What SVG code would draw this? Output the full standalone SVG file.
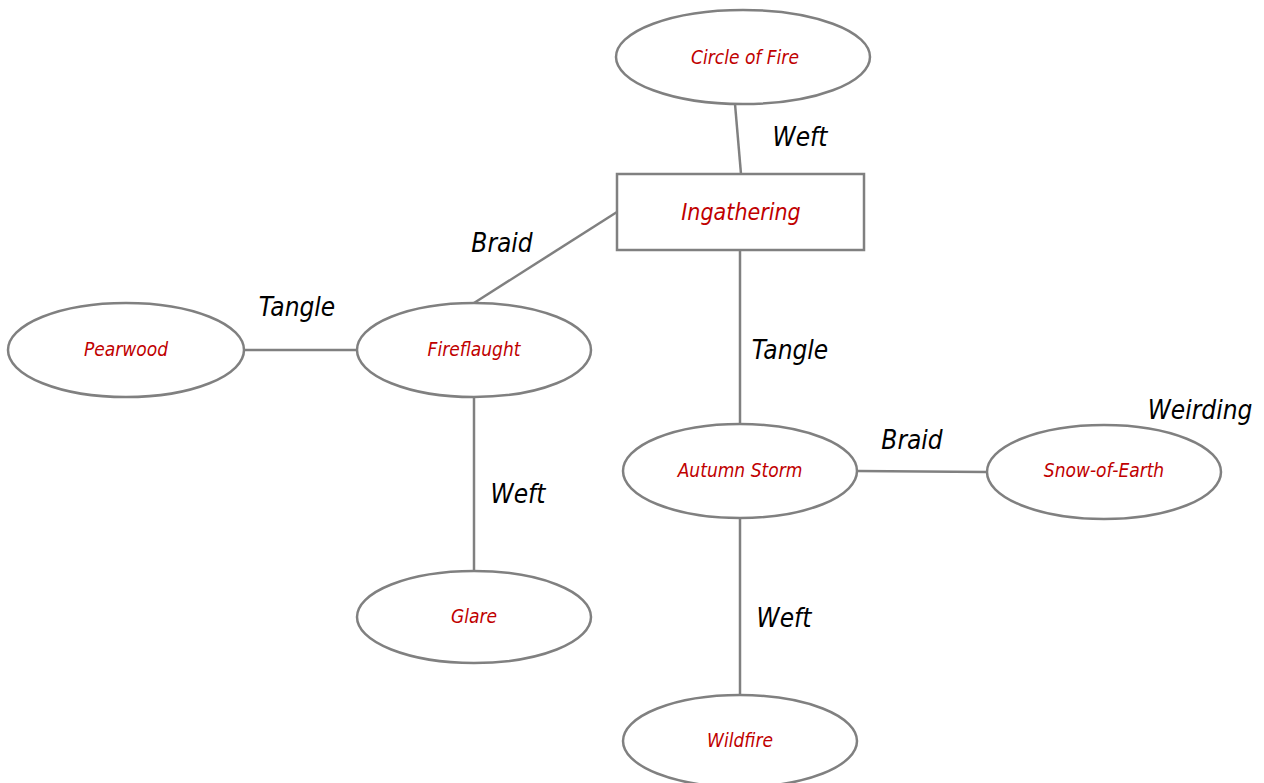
<svg xmlns="http://www.w3.org/2000/svg" width="1264" height="783" viewBox="0 0 1264 783">
<style>
.n{fill:#fff;stroke:#808080;stroke-width:2.5}
.e{stroke:#808080;stroke-width:2.5;fill:none}
.t{font-family:"DejaVu Sans Condensed","DejaVu Sans",sans-serif;font-style:italic;fill:#c00000;font-size:19px;text-anchor:middle;dominant-baseline:central}
.l{font-family:"DejaVu Sans Condensed","DejaVu Sans",sans-serif;font-style:italic;fill:#000;font-size:26px;text-anchor:middle;dominant-baseline:central}
</style>
<rect width="1264" height="783" fill="#fff"/>
<g id="edges">
<line class="e" x1="735" y1="104" x2="741" y2="174"/>
<line class="e" x1="617" y1="212" x2="474" y2="303"/>
<line class="e" x1="244" y1="350" x2="356" y2="350"/>
<line class="e" x1="474" y1="396" x2="474" y2="571"/>
<line class="e" x1="740" y1="250" x2="740" y2="424"/>
<line class="e" x1="857" y1="471" x2="987" y2="472"/>
<line class="e" x1="740" y1="518" x2="740" y2="695"/>
<text class="l" x="800" y="137">Weft</text>
<text class="l" x="502" y="243">Braid</text>
<text class="l" x="297" y="307">Tangle</text>
<text class="l" x="518" y="494">Weft</text>
<text class="l" x="790" y="350">Tangle</text>
<text class="l" x="912" y="440">Braid</text>
<text class="l" x="1200" y="410">Weirding</text>
<text class="l" x="784" y="618">Weft</text>
</g>
<g id="circle-of-fire"><ellipse class="n" cx="743" cy="57" rx="127" ry="47"/><text class="t" x="745" y="57">Circle of Fire</text></g>
<g id="ingathering"><rect class="n" x="617" y="174" width="247" height="76"/><text class="t" x="741" y="212" style="font-size:23px">Ingathering</text></g>
<g id="pearwood"><ellipse class="n" cx="126" cy="350" rx="118" ry="47"/><text class="t" x="126" y="349">Pearwood</text></g>
<g id="fireflaught"><ellipse class="n" cx="474" cy="350" rx="117" ry="47"/><text class="t" x="474" y="349">Fireflaught</text></g>
<g id="glare"><ellipse class="n" cx="474" cy="617" rx="117" ry="46"/><text class="t" x="474" y="616">Glare</text></g>
<g id="autumn-storm"><ellipse class="n" cx="740" cy="471" rx="117" ry="47"/><text class="t" x="740" y="470">Autumn Storm</text></g>
<g id="snow-of-earth"><ellipse class="n" cx="1104" cy="472" rx="117" ry="47"/><text class="t" x="1104" y="470">Snow-of-Earth</text></g>
<g id="wildfire"><ellipse class="n" cx="740" cy="741" rx="117" ry="46"/><text class="t" x="740" y="740">Wildfire</text></g>
</svg>
